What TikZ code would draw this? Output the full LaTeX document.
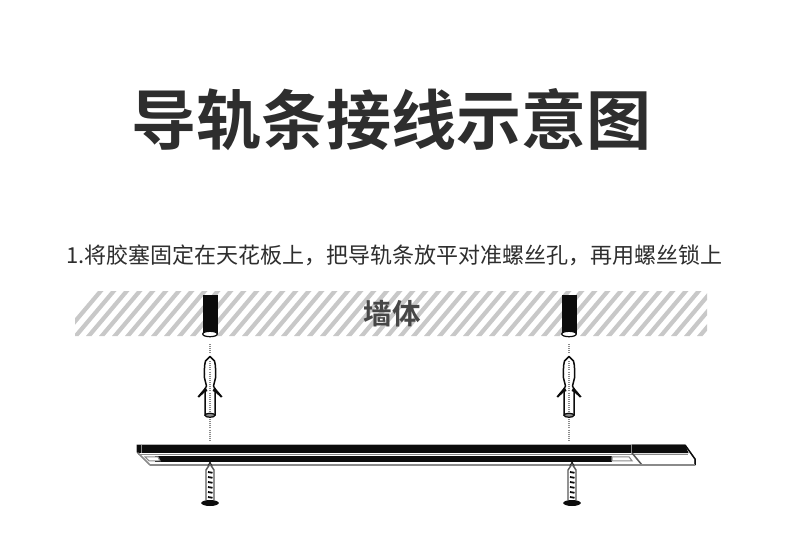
\documentclass[tikz,border=0pt]{standalone}
\usepackage{fontspec}
\newfontfamily\cjkreg{Noto Sans CJK SC}
\newfontfamily\cjkbold{Noto Sans CJK SC Bold}
\definecolor{stripegray}{HTML}{C8C8C8}
\definecolor{linegray}{HTML}{8A8A8A}
\definecolor{inkdark}{HTML}{0C0C0C}
\tikzset{
  titletext/.style={inner sep=0pt,text=black!82,font=\cjkbold\fontsize{65}{65}\selectfont},
  subtext/.style={inner sep=0pt,text=black!82,font=\cjkreg\fontsize{22}{22}\selectfont},
  walltext/.style={inner sep=0pt,text=black!72,font=\cjkbold\fontsize{28.5}{28.5}\selectfont},
  dotline/.style={draw=linegray,line width=1.2pt,dash pattern=on 1pt off 1.1pt},
  outline/.style={draw=inkdark,line width=1.5pt,line join=round},
  railline/.style={draw=linegray,line width=1.1pt},
}
\newcommand{\holefig}[1]{%
  \fill[inkdark] (#1-7.5,295) rectangle (#1+7.5,334);
  \draw[inkdark,line width=1.2pt,fill=white] (#1,334) ellipse (7.3 and 2.7);
}
\newcommand{\anchorfig}[1]{%
  \begin{scope}[shift={(#1,0)}]
    \draw[dotline] (0,344) -- (0,353);
    \draw[outline,fill=white] (0,356.5) -- (4.5,361) .. controls (6.5,364) and (4.2,366) .. (5.5,368)
      .. controls (7,371) and (4.2,372) .. (5.5,374) .. controls (7,377) and (4.5,378) .. (5,380) -- (3.5,386) -- (5,389) -- (5,415)
      -- (-5,415) -- (-5,389) -- (-3.5,386) -- (-5,380) .. controls (-4.5,378) and (-7,377) .. (-5.5,374)
      .. controls (-4.2,372) and (-7,371) .. (-5.5,368) .. controls (-4.2,366) and (-6.5,364) .. (-4.5,361) -- cycle;
    \fill[inkdark] (-4.5,387) -- (-12.5,396.5) -- (-11,397.5) -- (-5,392) -- (-2.5,391) -- cycle;
    \fill[inkdark] (4.5,387) -- (12.5,396.5) -- (11,397.5) -- (5,392) -- (2.5,391) -- cycle;
    \draw[inkdark,line width=1.2pt,fill=linegray] (0,415.3) ellipse (5 and 2);
    \draw[dotline] (0,361) -- (0,412);
    \draw[dotline] (0,419) -- (0,441);
  \end{scope}
}
\newcommand{\screwfig}[1]{%
  \begin{scope}[shift={(#1,0)}]
    \fill[inkdark] (-2.5,466) -- (0,461) -- (2.5,466) -- cycle;
    \draw[draw=black!65,line width=1.4pt,line join=round,fill=white] (-4,500) -- (-4,470) -- (0,464) -- (4,470) -- (4,500);
    \foreach \ty in {472,477,...,497} {\draw[inkdark,line width=1.8pt] (-2,\ty) -- (2.5,\ty+.8);}
    \fill[inkdark] (0,503) ellipse (8.8 and 3);
  \end{scope}
}
\begin{document}
\begin{tikzpicture}[x=1pt,y=-1pt]
\useasboundingbox (0,0) rectangle (790,552);
\fill[white] (0,0) rectangle (790,552);
\node[titletext] (title) at (391.5,120) {导轨条接线示意图};
\node[subtext] (sub) at (394.5,255) {1.将胶塞固定在天花板上，把导轨条放平对准螺丝孔，再用螺丝锁上};
\begin{scope}
  \clip (75,291) rectangle (707,336);
  \foreach \i in {0,...,52} {
    \fill[stripegray] (60+13*\i,336) -- (65.5+13*\i,336) -- (103.5+13*\i,291) -- (98+13*\i,291) -- cycle;
  }
\end{scope}
\node[walltext] (wall) at (392,314) {墙体};
\holefig{210}
\holefig{569}
\anchorfig{210}
\anchorfig{569}
% rail
\draw[railline,fill=white,line join=round] (137,452) -- (150,465) -- (642,465) -- (695,465) -- (695,459) -- (685,445) -- (137,445) -- cycle;
\fill[inkdark] (137,444.5) rectangle (631,453);
\fill[inkdark] (632,444.5) -- (685,444.5) -- (688.5,453) -- (632,453) -- cycle;
\draw[railline] (138,454.5) -- (688,454.5);
\draw[linegray,line width=.8pt] (141,445) -- (141,453);
\draw[linegray,line width=1pt] (631,445) -- (631,453);
\draw[inkdark,line width=1.5pt] (685,445) -- (695,459) -- (695,465);
\draw[railline,line width=1.5pt,draw=black!65] (632,453) -- (642,465);
\draw[railline,line width=1.3pt] (137.5,452.5) -- (150,465);
\fill[inkdark] (155,456) rectangle (612,461.8);
\draw[railline,fill=white] (145,456.8) -- (158,456.8) -- (160,460.8) -- (149,460.8) -- cycle;
\draw[railline,fill=white] (612,456.8) -- (629,456.8) -- (632,460.8) -- (612,460.8) -- cycle;
\draw[linegray,line width=1.6pt] (150,465) -- (695,465);
\screwfig{210}
\screwfig{572}
\end{tikzpicture}
\end{document}
